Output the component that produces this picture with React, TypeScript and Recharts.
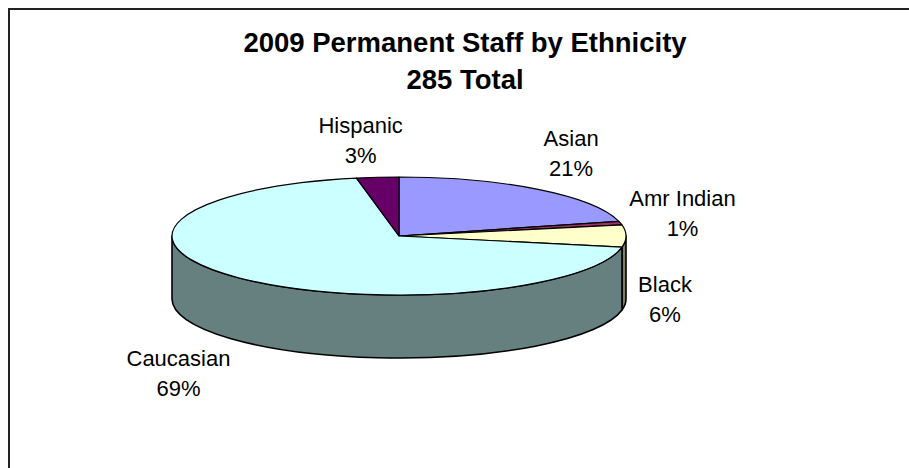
import { Pie, PieChart } from 'recharts';

const categories = ['Asian', 'Amr Indian', 'Black', 'Caucasian', 'Hispanic'];
const shares = [21, 1, 6, 69, 3];
const faceColors = ['#9999FF', '#993366', '#FFFFCC', '#CCFFFF', '#660066'];
const sideColors = ['#4D4D80', '#4D1A33', '#808066', '#668080', '#330033'];
const titleLines = ['2009 Permanent Staff by Ethnicity', '285 Total'];

const rows = categories.map((name, i) => ({
  name,
  value: shares[i],
  fill: faceColors[i],
  side: sideColors[i],
}));

const FONT = '"Liberation Sans", Arial, sans-serif';
const CX = 399;
const CY = 236;
const RADIUS = 227;
const SQUASH = 59 / 227;
const DEPTH = 63;

// how far each label sits from the rim point at the middle of its slice
const labelNudge: Record<string, [number, number]> = {
  Asian: [33, -51],
  'Amr Indian': [62, -25],
  Black: [39, 48],
  Caucasian: [-60, 80],
  Hispanic: [-17, -52],
};

const rim = (angle: number, drop = 0) => {
  const rad = (angle * Math.PI) / 180;
  return {
    x: CX + RADIUS * Math.cos(rad),
    y: CY - RADIUS * SQUASH * Math.sin(rad) + drop,
  };
};

function TopFace(props: any) {
  const { startAngle, endAngle, fill } = props;
  const a = rim(startAngle);
  const b = rim(endAngle);
  const large = Math.abs(startAngle - endAngle) > 180 ? 1 : 0;
  const ry = RADIUS * SQUASH;
  return (
    <path
      d={`M${CX},${CY} L${a.x},${a.y} A${RADIUS},${ry} 0 ${large} 1 ${b.x},${b.y} Z`}
      fill={fill}
      stroke="#000"
      strokeWidth={1.2}
      strokeLinejoin="round"
    />
  );
}

// outer wall, only the part of the slice that faces the viewer
function SideWall(props: any) {
  const { startAngle, endAngle, payload } = props;
  const from = Math.min(startAngle, 0);
  const to = Math.max(endAngle, -180);
  if (from <= to) return <g />;
  const a = rim(from);
  const b = rim(to);
  const c = rim(to, DEPTH);
  const d = rim(from, DEPTH);
  const ry = RADIUS * SQUASH;
  return (
    <path
      d={`M${a.x},${a.y} A${RADIUS},${ry} 0 0 1 ${b.x},${b.y} L${c.x},${c.y} A${RADIUS},${ry} 0 0 0 ${d.x},${d.y} Z`}
      fill={payload.side}
      stroke="#000"
      strokeWidth={1.6}
      strokeLinejoin="round"
    />
  );
}

function SliceLabel(props: any) {
  const { midAngle, name, value } = props;
  const p = rim(midAngle);
  const [dx, dy] = labelNudge[name];
  const x = p.x + dx;
  const y = p.y + dy + 8;
  return (
    <text textAnchor="middle" fontFamily={FONT} fontSize={22} fill="#000">
      <tspan x={x} y={y}>{name}</tspan>
      <tspan x={x} y={y + 30}>{`${value}%`}</tspan>
    </text>
  );
}

export default function App() {
  return (
    <div style={{ position: 'fixed', left: 0, top: 0, width: 909, height: 468, background: '#fff', overflow: 'hidden' }}>
      <PieChart width={909} height={468} margin={{ top: 0, right: 0, bottom: 0, left: 0 }}>
        <rect x={9} y={9} width={1000} height={1000} fill="none" stroke="#222" strokeWidth={2} />
        {titleLines.map((line, i) => (
          <text
            key={line}
            x={465}
            y={52 + i * 36.5}
            textAnchor="middle"
            fontFamily={FONT}
            fontSize={27.5}
            fontWeight="bold"
            fill="#000"
          >
            {line}
          </text>
        ))}
        <Pie
          data={rows}
          dataKey="value"
          nameKey="name"
          cx={CX}
          cy={CY}
          outerRadius={RADIUS}
          startAngle={90}
          endAngle={-270}
          paddingAngle={0}
          shape={SideWall}
          isAnimationActive={false}
          legendType="none"
        />
        <Pie
          data={rows}
          dataKey="value"
          nameKey="name"
          cx={CX}
          cy={CY}
          outerRadius={RADIUS}
          startAngle={90}
          endAngle={-270}
          paddingAngle={0}
          shape={TopFace}
          label={SliceLabel}
          labelLine={false}
          isAnimationActive={false}
          legendType="none"
        />
      </PieChart>
    </div>
  );
}
